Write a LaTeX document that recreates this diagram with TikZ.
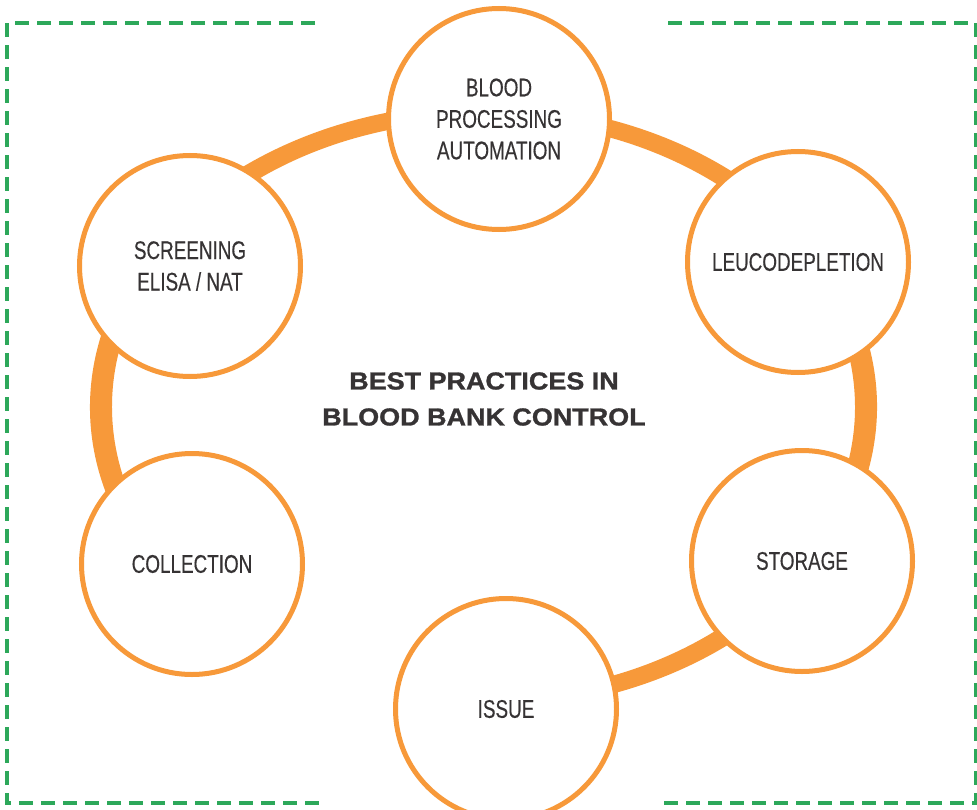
\documentclass[tikz,border=0pt]{standalone}
\usepackage{fontspec}
\usetikzlibrary{calc}
\setmainfont{Liberation Sans}
\newfontfamily\condfont[FakeStretch=0.74,FakeBold=0.3]{Liberation Sans}
\newfontfamily\titlefont[FakeStretch=1.1,FakeBold=1.2]{Liberation Sans}
\definecolor{ringorange}{HTML}{F7993A}
\definecolor{dashgreen}{HTML}{2DA85A}
\definecolor{textgray}{HTML}{363334}
\tikzset{
  stagecircle/.style={circle, draw=ringorange, line width=5bp, fill=white,
    minimum size=221bp, inner sep=0pt, align=center, text=textgray,
    font=\condfont\fontsize{25.5bp}{31.5bp}\selectfont},
  titletext/.style={align=center, text=textgray, inner sep=0pt,
    font=\titlefont\bfseries\fontsize{24.5bp}{36bp}\selectfont},
  frameline/.style={draw=dashgreen, line width=3.3bp, dash pattern=on 14bp off 8bp}
}
\begin{document}
\begin{tikzpicture}[x=1bp,y=-1bp]
\useasboundingbox (0,0) rectangle (977,810);
\fill[white] (0,0) rectangle (977,810);
% dashed frame
\coordinate (tl1) at (315,23);
\coordinate (tl2) at (7,23);
\coordinate (bl2) at (7,803);
\coordinate (bl1) at (320,803);
\coordinate (tr1) at (668,23);
\coordinate (tr2) at (976,23);
\coordinate (br2) at (976,803);
\coordinate (br1) at (663,803);
\draw[frameline] (tl1) -- (tl2) -- (bl2) -- (bl1);
\draw[frameline] (tr1) -- (tr2) -- (br2) -- (br1);
% ring (open between COLLECTION and ISSUE)
\coordinate (rc) at (483.5,407);
\fill[ringorange]
  ($(rc)+(145:393.5 and 303.5)$)
  arc [start angle=145, end angle=447, x radius=393.5, y radius=303.5]
  -- ($(rc)+(447:371.5 and 286.5)$)
  arc [start angle=447, end angle=145, x radius=371.5, y radius=286.5]
  -- cycle;
% stages
\node[stagecircle] (proc) at (499,119) {BLOOD\\PROCESSING\\AUTOMATION};
\node[stagecircle] (leuco) at (798,262) {LEUCODEPLETION};
\node[stagecircle] (stor) at (802,561) {STORAGE};
\node[stagecircle] (issue) at (506,709) {ISSUE};
\node[stagecircle] (coll) at (192,564) {COLLECTION};
\node[stagecircle] (screen) at (190,266) {SCREENING\\ELISA / NAT};
% title
\node[titletext] (title) at (484,399) {BEST PRACTICES IN\\BLOOD BANK CONTROL};
\end{tikzpicture}
\end{document}
